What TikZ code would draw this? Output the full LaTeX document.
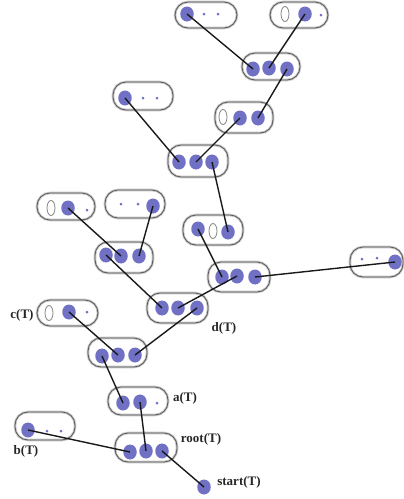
\documentclass[tikz,border=0pt]{standalone}
\usepackage{fontspec}
\setmainfont{Liberation Serif}
\usetikzlibrary{shapes.geometric}
\definecolor{dotc}{RGB}{112,112,196}
\begin{document}
\begin{tikzpicture}[x=1pt,y=-1pt,
  blob/.style={draw=black!65,line width=0.8pt,rounded corners=13pt,
    preaction={draw=black!22,line width=2.6pt},
    minimum width=#1,inner sep=0pt},
  big/.style={ellipse,fill=dotc,minimum width=13.5pt,minimum height=15pt,inner sep=0pt},
  small/.style={circle,fill=dotc,minimum size=3pt,inner sep=0pt},
  zero/.style={ellipse,draw=black!50,line width=0.8pt,minimum width=8pt,minimum height=15pt,inner sep=0pt},
  edge/.style={draw=black!90,line width=1.4pt},
  lbl/.style={font=\bfseries\fontsize{13}{13}\selectfont,text=black!85,inner sep=0pt}]
\useasboundingbox (0,0) rectangle (404,499);
% boxes
\node[blob=62pt,minimum height=26pt] (B1) at (206,15) {};
\node[blob=58pt,minimum height=26pt] (B2) at (299,15) {};
\node[blob=58pt,minimum height=27pt] (B3) at (271,66.5) {};
\node[blob=60pt,minimum height=28pt] (B4) at (143,96) {};
\node[blob=58pt,minimum height=31pt] (B5) at (244,117.5) {};
\node[blob=60pt,minimum height=32pt] (B6) at (198,161) {};
\node[blob=58pt,minimum height=27pt] (B7) at (66,206.5) {};
\node[blob=60pt,minimum height=28pt] (B8) at (135,204) {};
\node[blob=60pt,minimum height=30pt] (B9) at (213,230) {};
\node[blob=58pt,minimum height=31pt] (B10) at (124,257.5) {};
\node[blob=62pt,minimum height=30pt] (B11) at (239,277) {};
\node[blob=61pt,minimum height=30pt] (B12) at (177.5,308) {};
\node[blob=53pt,minimum height=30pt] (B13) at (376.5,262) {};
\node[blob=61pt,minimum height=26pt] (B14) at (67.5,313) {};
\node[blob=59pt,minimum height=29pt] (B15) at (117.5,352.5) {};
\node[blob=60pt,minimum height=28pt] (B16) at (138,401) {};
\node[blob=60pt,minimum height=28pt] (B17) at (45,426) {};
\node[blob=62pt,minimum height=29pt] (B18) at (146,447.5) {};
% dots
\node[big] (b1a) at (187,14) {};
\node[small] (b1s1) at (204,14) {};
\node[small] (b1s2) at (218,14) {};
\node[zero] (b2z) at (285,14) {};
\node[big] (b2a) at (305,14) {};
\node[small] (b2s) at (321,15) {};
\node[big] (b3a) at (253,69) {};
\node[big] (b3b) at (269,68) {};
\node[big] (b3c) at (287,69) {};
\node[big] (b4a) at (125,98) {};
\node[small] (b4s1) at (143,98) {};
\node[small] (b4s2) at (157,98) {};
\node[zero] (b5z) at (223,117) {};
\node[big] (b5a) at (240,118) {};
\node[big] (b5b) at (258,118) {};
\node[big] (b6a) at (179,162) {};
\node[big] (b6b) at (196,162) {};
\node[big] (b6c) at (212,162) {};
\node[zero] (b7z) at (51,208) {};
\node[big] (b7a) at (68,208) {};
\node[small] (b7s) at (87,210) {};
\node[small] (b8s1) at (121,204) {};
\node[small] (b8s2) at (138,204) {};
\node[big] (b8a) at (153,206) {};
\node[big] (b9a) at (198,229) {};
\node[zero] (b9z) at (213,231) {};
\node[big] (b9b) at (228,232) {};
\node[big] (b10a) at (106,255) {};
\node[big] (b10b) at (121,256) {};
\node[big] (b10c) at (139,256) {};
\node[big] (b11a) at (222,277) {};
\node[big] (b11b) at (237,276) {};
\node[big] (b11c) at (255,277) {};
\node[big] (b12a) at (162,308) {};
\node[big] (b12b) at (178,308) {};
\node[big] (b12c) at (197,308) {};
\node[small] (b13s1) at (362,259) {};
\node[small] (b13s2) at (377,258) {};
\node[big] (b13a) at (395,262) {};
\node[zero] (b14z) at (49,313) {};
\node[big] (b14a) at (69,312) {};
\node[small] (b14s) at (87,312) {};
\node[big] (b15a) at (102,356) {};
\node[big] (b15b) at (118,355) {};
\node[big] (b15c) at (135,355) {};
\node[big] (b16a) at (123,403) {};
\node[big] (b16b) at (140,402) {};
\node[small] (b16s) at (157,403) {};
\node[big] (b17a) at (28,430) {};
\node[small] (b17s1) at (47,431) {};
\node[small] (b17s2) at (61,431) {};
\node[big] (b18a) at (130,452) {};
\node[big] (b18b) at (146,451) {};
\node[big] (b18c) at (162,451) {};
\node[big] (start) at (204,487) {};
% edges
\foreach \a/\b in {b1a/b3a,b2a/b3b,b3c/b5b,b4a/b6a,b5a/b6b,b6c/b9b,b7a/b10b,b8a/b10c,
  b9a/b11a,b11c/b13a,b11b/b12b,b10a/b12a,b14a/b15b,b12c/b15c,b15a/b16a,b16b/b18b,
  b17a/b18a,b18c/start}
  \draw[edge] (\a.center) -- (\b.center);
% labels
\node[lbl] (lc) at (22,315) {c(T)};
\node[lbl] (ld) at (224,328) {d(T)};
\node[lbl] (la) at (185,398) {a(T)};
\node[lbl] (lroot) at (201,439) {root(T)};
\node[lbl] (lb) at (26,451) {b(T)};
\node[lbl] (lstart) at (239,482) {start(T)};
\end{tikzpicture}
\end{document}
